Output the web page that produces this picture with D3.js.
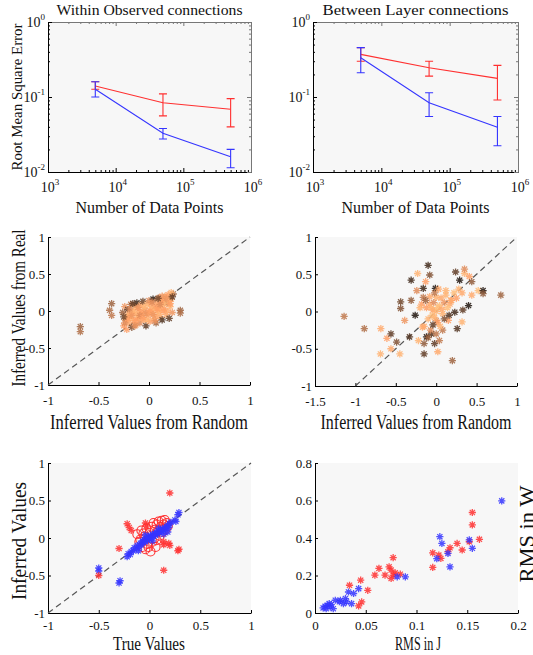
<!DOCTYPE html>
<html>
<head>
<meta charset="utf-8">
<script src="https://cdn.jsdelivr.net/npm/d3@7"></script>
<style>
  body { margin: 0; background: #fff; }
  svg text { font-family: "Liberation Serif", "DejaVu Serif", serif; fill: #111; }
</style>
</head>
<body>
<svg id="fig" width="533" height="655"></svg>
<script>
// ---- data ----
const sampleSizes = [5000, 50000, 500000];
// each entry: [mean, lower, upper]
const withinRed  = [[0.140, 0.127, 0.160], [0.084, 0.056, 0.110], [0.0686, 0.040, 0.095]];
const withinBlue = [[0.127, 0.100, 0.160], [0.0328, 0.0275, 0.038], [0.016, 0.0114, 0.020]];
const betweenRed  = [[0.37, 0.30, 0.455], [0.246, 0.19, 0.30], [0.177, 0.091, 0.264]];
const betweenBlue = [[0.334, 0.211, 0.455], [0.084, 0.055, 0.114], [0.0394, 0.0224, 0.055]];

// [random, real, copper shade]
const withinScatter = [
  [-0.68,-0.21,0.5],[-0.68,-0.28,0.55],[-0.37,0.10,0.5],[-0.39,0.01,0.55],[-0.37,-0.06,0.6],[0.31,0.01,0.5],[0.31,-0.03,0.55],
  [-0.26,-0.02,0.5],[-0.25,-0.20,0.8],[-0.24,0.06,0.75],[-0.23,-0.12,0.85],[-0.22,-0.25,0.8],[-0.21,0.02,0.3],[-0.20,-0.16,0.85],
  [-0.19,-0.06,0.9],[-0.18,0.09,0.6],[-0.17,-0.22,0.4],[-0.16,-0.02,0.85],[-0.15,-0.13,0.8],[-0.14,0.06,0.9],[-0.13,-0.19,0.85],
  [-0.12,0.11,0.2],[-0.11,-0.08,0.9],[-0.10,0.02,0.8],[-0.09,-0.16,0.7],[-0.08,0.08,0.85],[-0.07,-0.04,0.9],[-0.06,0.13,0.35],
  [-0.05,-0.12,0.85],[-0.04,0.01,0.75],[-0.03,-0.20,0.3],[-0.02,0.09,0.9],[-0.01,-0.06,0.85],[0.00,0.14,0.7],[0.01,-0.14,0.8],
  [0.02,0.04,0.9],[0.03,-0.02,0.85],[0.04,0.16,0.15],[0.05,-0.10,0.9],[0.06,0.07,0.8],[0.07,-0.16,0.5],[0.08,0.12,0.85],
  [0.09,0.01,0.9],[0.10,0.18,0.75],[0.11,-0.08,0.85],[0.12,0.08,0.9],[0.13,-0.12,0.25],[0.14,0.15,0.85],[0.15,0.03,0.8],
  [0.16,0.20,0.9],[0.17,-0.05,0.85],[0.18,0.11,0.6],[0.19,0.22,0.8],[0.20,-0.10,0.3],[0.21,0.06,0.9],[0.22,0.16,0.85],
  [0.23,-0.02,0.75],[0.24,0.23,0.5],[0.22,0.25,0.9],[-0.20,-0.04,0.85],[-0.15,0.00,0.9],[-0.10,-0.10,0.85],[-0.05,0.05,0.9],
  [0.00,-0.02,0.85],[0.05,0.02,0.9],[0.10,0.05,0.85],[0.15,0.10,0.9],[0.18,0.00,0.85],[-0.18,-0.10,0.9],[-0.08,-0.02,0.8],
  [0.02,0.10,0.85],[0.12,0.14,0.8],[-0.12,-0.04,0.9],[0.07,-0.06,0.85],[-0.22,-0.08,0.9],[0.20,0.14,0.9],[-0.02,-0.12,0.9],
  [0.10,-0.02,0.9],[-0.24,-0.16,0.7],[-0.21,-0.10,0.8],[-0.17,-0.06,0.75],[-0.13,-0.13,0.8],[-0.09,-0.06,0.7],[-0.06,-0.09,0.8],
  [-0.03,-0.04,0.75],[0.01,0.00,0.8],[0.04,-0.05,0.75],[0.08,0.03,0.8],[0.11,0.09,0.7],[0.14,0.00,0.8],[0.17,0.17,0.75],
  [0.21,0.10,0.8],[-0.19,0.03,0.7],[-0.11,0.05,0.75],[0.03,0.12,0.7],[0.13,0.20,0.75],[-0.14,-0.20,0.7],[0.06,-0.13,0.75],
  [-0.25,-0.08,0.35],[0.23,0.19,0.3],[-0.16,0.10,0.3],[0.09,0.17,0.35]
];

const betweenScatter = [
  [-1.14,-0.065,0.6],[-0.89,-0.23,0.55],[-0.685,-0.23,0.85],[-0.61,-0.36,0.8],[-0.69,-0.57,0.9],[-0.56,-0.50,0.85],
  [-0.56,-0.30,0.3],[-0.49,-0.41,0.4],[-0.45,-0.57,0.9],[-0.44,0.13,0.35],[-0.44,0.04,0.4],[-0.39,-0.12,0.75],
  [-0.31,0.42,0.2],[-0.31,0.15,0.45],[-0.33,-0.34,0.25],[-0.26,-0.05,0.1],[-0.23,0.51,0.9],[-0.24,0.28,0.7],
  [-0.18,0.10,0.8],[-0.17,-0.21,0.85],[-0.22,-0.39,0.9],[-0.15,-0.43,0.45],[-0.15,-0.57,0.3],[-0.10,0.62,0.2],
  [-0.08,0.49,0.4],[-0.13,0.40,0.8],[-0.16,0.31,0.2],[-0.16,0.19,0.6],[-0.08,0.10,0.85],[-0.01,0.31,0.1],
  [0.00,0.19,0.9],[-0.04,0.02,0.8],[0.00,-0.12,0.7],[-0.06,-0.30,0.25],[-0.12,-0.34,0.1],[-0.02,-0.43,0.3],
  [0.02,-0.54,0.85],[0.04,-0.39,0.6],[0.12,0.28,0.9],[0.17,0.10,0.85],[0.23,-0.01,0.2],[0.24,0.53,0.3],
  [0.20,-0.66,0.5],[0.29,0.42,0.1],[0.35,0.51,0.9],[0.35,0.57,0.7],[0.41,0.47,0.8],[0.44,0.40,0.45],
  [0.44,0.22,0.85],[0.40,0.08,0.1],[0.33,0.02,0.3],[0.32,-0.14,0.9],[0.26,-0.23,0.25],[0.52,0.28,0.95],
  [0.58,0.28,0.1],[0.58,0.24,0.45],[0.80,0.22,0.5],[0.19,0.15,0.85],[0.15,-0.12,0.8],[0.08,-0.25,0.6],
  [-0.12,0.05,0.8],[-0.10,-0.10,0.9],[-0.08,0.20,0.85],[-0.05,-0.05,0.95],[-0.03,0.12,0.7],[0.00,0.00,0.9],
  [0.02,-0.15,0.8],[0.04,0.08,0.95],[0.06,0.18,0.85],[0.08,-0.03,0.9],[0.10,0.12,0.75],[0.12,0.22,0.9],
  [0.14,0.05,0.95],[-0.15,-0.20,0.85],[-0.07,-0.25,0.7],[0.00,-0.30,0.6],[0.05,-0.20,0.9],[-0.20,0.05,0.9],
  [0.18,0.15,0.85],[0.22,0.25,0.95],[0.25,0.18,0.8],[-0.02,0.25,0.6],[-0.13,0.15,0.5],[0.03,0.30,0.85],
  [-0.10,-0.35,0.5],[0.10,-0.10,0.4],[0.16,-0.05,0.25],[-0.04,-0.18,0.3],[0.28,0.30,0.9],[0.32,0.25,0.85],
  [-0.06,0.05,0.9],[0.02,0.05,0.95],[0.07,0.03,0.85],[-0.02,-0.08,0.9]
];

// true vs inferred
const trueRedCircles = [
  [-0.12,0.05],[-0.10,-0.05],[-0.08,0.10],[-0.07,-0.12],[-0.05,0.02],[-0.04,-0.15],[-0.03,0.13],[-0.02,-0.08],
  [0.00,0.07],[0.01,-0.18],[0.02,0.15],[0.03,-0.05],[0.04,0.20],[0.05,0.00],[0.06,-0.12],[0.07,0.18],
  [0.08,0.09],[0.09,0.22],[0.10,0.03],[0.11,0.15],[0.12,0.23],[0.13,0.08],[0.14,0.18],[0.15,0.24],
  [0.16,0.12],[0.17,0.20],[0.18,0.16],[-0.09,-0.02],[-0.06,0.06],[0.05,0.11],[-0.01,-0.12],[0.07,-0.03]
];
const trueBlueStars = [
  [-0.50,-0.40],[-0.50,-0.44],[-0.29,-0.57],[-0.30,-0.60],[0.29,0.34],[0.28,0.31],[0.25,0.24],[0.26,0.22],
  [-0.22,-0.25],[-0.21,-0.21],[-0.19,-0.22],[-0.18,-0.18],[-0.16,-0.17],[-0.15,-0.13],[-0.13,-0.14],[-0.12,-0.10],
  [-0.10,-0.12],[-0.09,-0.07],[-0.08,-0.09],[-0.07,-0.04],[-0.06,-0.06],[-0.05,-0.02],[-0.04,-0.05],[-0.03,0.00],
  [-0.02,-0.03],[-0.01,0.02],[0.00,-0.01],[0.01,0.03],[0.02,0.00],[0.03,0.05],[0.04,0.02],[0.05,0.06],
  [0.06,0.04],[0.07,0.08],[0.08,0.05],[0.09,0.09],[0.10,0.07],[0.11,0.11],[0.12,0.09],[0.13,0.12],
  [0.14,0.10],[0.15,0.14],[0.16,0.12],[0.17,0.15],[0.18,0.17],[0.19,0.14],[0.20,0.19],[0.21,0.21],
  [0.14,0.05],[0.18,0.08],[-0.11,-0.17],[-0.04,0.04],[0.03,-0.04],[0.09,0.13]
];
const trueRedStars = [
  [0.20,0.60],[-0.22,0.19],[-0.20,0.14],[-0.18,0.10],[-0.04,0.20],[-0.03,0.16],[-0.30,-0.14],[-0.50,-0.50],
  [0.14,-0.43],[0.29,-0.15],[0.28,-0.17],[0.19,-0.07],[0.14,-0.05],[0.14,-0.09],[0.20,-0.10]
];

// RMS in J vs RMS in W
const rmsBlue = [
  [0.184,0.598],[0.155,0.345],[0.152,0.39],[0.133,0.246],[0.131,0.318],[0.123,0.407],[0.125,0.371],[0.12,0.29],
  [0.081,0.193],[0.089,0.193],[0.008,0.027],[0.010,0.036],[0.012,0.041],[0.014,0.05],[0.015,0.032],[0.018,0.023],
  [0.011,0.023],[0.025,0.068],[0.028,0.05],[0.030,0.077],[0.033,0.112],[0.036,0.05],[0.038,0.104],[0.043,0.13],
  [0.031,0.059],[0.020,0.068],[0.016,0.045],[0.024,0.06]
];
const rmsRed = [
  [0.155,0.536],[0.155,0.47],[0.162,0.393],[0.152,0.38],[0.145,0.336],[0.14,0.371],[0.133,0.348],[0.131,0.327],
  [0.116,0.321],[0.116,0.243],[0.122,0.309],[0.124,0.291],[0.077,0.295],[0.073,0.246],[0.075,0.229],[0.077,0.202],
  [0.075,0.184],[0.069,0.202],[0.063,0.238],[0.059,0.202],[0.079,0.214],[0.084,0.207],[0.052,0.121],[0.045,0.175],
  [0.046,0.059],[0.043,0.038],[0.034,0.148]
];

const logXTicks = [3, 4, 5, 6];
const logYTicks = [-2, -1, 0];
const unitTicks = [-1, -0.5, 0, 0.5, 1];
const wideTicks = [-1.5, -1, -0.5, 0, 0.5, 1];
const rmsJTicks = [0, 0.05, 0.1, 0.15, 0.2];
const rmsWTicks = [0, 0.2, 0.4, 0.6, 0.8];

// ---- drawing ----
const svg = d3.select("#fig");
const RED = "#ff3030", BLUE = "#3535ff";

function copper(c) {
  return d3.rgb(255 * Math.min(1, 1.25 * c), 255 * 0.7812 * c, 255 * 0.4975 * c).toString();
}

function starPath(r) {
  const a = r * 0.72;
  return `M${-r},0L${r},0M0,${-r}L0,${r}M${-a},${-a}L${a},${a}M${-a},${a}L${a},${-a}`;
}

function frame(box) {
  svg.append("rect")
    .attr("x", box.x0).attr("y", box.y0)
    .attr("width", box.x1 - box.x0).attr("height", box.y1 - box.y0)
    .attr("fill", "#f7f7f7");
}

function label(text, x, y, size, len, rotate) {
  const t = svg.append("text")
    .attr("font-size", size)
    .attr("text-anchor", "middle")
    .attr("textLength", len)
    .attr("lengthAdjust", "spacingAndGlyphs")
    .text(text);
  if (rotate) t.attr("transform", `translate(${x},${y}) rotate(${rotate})`);
  else t.attr("x", x).attr("y", y);
  return t;
}

function styleAxis(g, color) {
  g.select(".domain").attr("stroke", color);
  g.selectAll(".tick line").attr("stroke", color);
  g.selectAll(".tick text").attr("font-size", 13).attr("fill", "#111")
    .attr("font-family", "Liberation Serif, serif");
}

// log-log panel with error bars
function errorPanel(box, title, redData, blueData, withYLabel) {
  frame(box);
  const x = d3.scaleLog().domain([1e3, 1e6]).range([box.x0, box.x1]);
  const y = d3.scaleLog().domain([1e-2, 1]).range([box.y1, box.y0]);

  const minorX = [], minorY = [];
  for (let e = 3; e < 6; e++) for (let m = 2; m < 10; m++) minorX.push(m * 10 ** e);
  for (let e = -2; e < 0; e++) for (let m = 2; m < 10; m++) minorY.push(m * 10 ** e);
  const majX = logXTicks.map(d => 10 ** d), majY = logYTicks.map(d => 10 ** d);

  const axes = [
    [d3.axisBottom(x), `translate(0,${box.y1})`, "#000", majX, minorX],
    [d3.axisTop(x), `translate(0,${box.y0})`, "#777", majX, minorX],
    [d3.axisLeft(y), `translate(${box.x0},0)`, "#000", majY, minorY],
    [d3.axisRight(y), `translate(${box.x1},0)`, "#777", majY, minorY]
  ];
  axes.forEach(([ax, tr, col, maj, min]) => {
    svg.append("g").attr("transform", tr)
      .call(ax.tickValues(min).tickSizeInner(-2).tickSizeOuter(0).tickFormat(""))
      .call(g => styleAxis(g, col));
    svg.append("g").attr("transform", tr)
      .call(ax.tickValues(maj).tickSizeInner(-4).tickSizeOuter(0).tickFormat(""))
      .call(g => styleAxis(g, col));
  });

  // power-of-ten labels
  svg.append("g").selectAll("text").data(logXTicks).join("text")
    .attr("x", d => x(10 ** d) + 2).attr("y", box.y1 + 20)
    .attr("text-anchor", "middle").attr("font-size", 14)
    .call(t => {
      t.append("tspan").text("10");
      t.append("tspan").attr("dy", -7).attr("font-size", 9).text(d => d);
    });
  svg.append("g").selectAll("text").data(logYTicks).join("text")
    .attr("x", box.x0 - 3).attr("y", d => y(10 ** d) + 5)
    .attr("text-anchor", "end").attr("font-size", 14)
    .call(t => {
      t.append("tspan").text("10");
      t.append("tspan").attr("dy", -7).attr("font-size", 9).text(d => d);
    });

  const line = d3.line().x((d, i) => x(sampleSizes[i])).y(d => y(d[0]));
  [[redData, RED], [blueData, BLUE]].forEach(([data, col]) => {
    const g = svg.append("g").attr("stroke", col).attr("fill", "none").attr("stroke-width", 1.1);
    g.append("path").attr("d", line(data));
    data.forEach((d, i) => {
      const cx = x(sampleSizes[i]);
      g.append("path").attr("d",
        `M${cx},${y(d[1])}V${y(d[2])}M${cx - 4},${y(d[1])}H${cx + 4}M${cx - 4},${y(d[2])}H${cx + 4}`);
    });
  });

  label(title, (box.x0 + box.x1) / 2, 15, 15, 186);
  label("Number of Data Points", (box.x0 + box.x1) / 2, 213, 16, 148);
  if (withYLabel) label("Root Mean Square Error", 22, (box.y0 + box.y1) / 2, 14, 147, -90);
}

// linear scatter panel
function scatterPanel(box, xDomain, yDomain, xTicks, yTicks, diagonal, pad) {
  frame(box);
  const x = d3.scaleLinear().domain(xDomain).range([box.x0, box.x1]);
  const y = d3.scaleLinear().domain(yDomain).range([box.y1, box.y0]);
  svg.append("g").attr("transform", `translate(0,${box.y1})`)
    .call(d3.axisBottom(x).tickValues(xTicks).tickSizeInner(-3).tickSizeOuter(0)
      .tickPadding(pad).tickFormat(d => String(d)))
    .call(g => styleAxis(g, "#000"));
  svg.append("g").attr("transform", `translate(${box.x0},0)`)
    .call(d3.axisLeft(y).tickValues(yTicks).tickSizeInner(-3).tickSizeOuter(0)
      .tickPadding(3).tickFormat(d => String(d)))
    .call(g => styleAxis(g, "#000"));
  if (diagonal) {
    svg.append("line")
      .attr("x1", x(-1)).attr("y1", y(-1)).attr("x2", x(1)).attr("y2", y(1))
      .attr("stroke", "#555").attr("stroke-width", 1.2).attr("stroke-dasharray", "6,4");
  }
  return {x, y};
}

function drawStars(sc, data, colorFn, r) {
  svg.append("g").selectAll("path").data(data).join("path")
    .attr("d", starPath(r))
    .attr("transform", d => `translate(${sc.x(d[0])},${sc.y(d[1])})`)
    .attr("fill", "none")
    .attr("stroke", colorFn)
    .attr("stroke-width", 1.3)
    .attr("stroke-opacity", 0.85);
}

// row 1
errorPanel({x0: 48, x1: 251, y0: 22, y1: 172}, "Within Observed connections", withinRed, withinBlue, true);
errorPanel({x0: 313, x1: 518, y0: 22, y1: 172}, "Between Layer connections", betweenRed, betweenBlue, false);

// row 2
const s3 = scatterPanel({x0: 48, x1: 250, y0: 237, y1: 385}, [-1, 1], [-1, 1], unitTicks, unitTicks, true, 11);
drawStars(s3, withinScatter, d => copper(d[2]), 3.6);
label("Inferred Values from Random", 149, 429, 20, 198);
label("Inferred Values from Real", 25, 308, 19, 157, -90);

const s4 = scatterPanel({x0: 315, x1: 517, y0: 237, y1: 386}, [-1.5, 1], [-1, 1], wideTicks, unitTicks, true, 11);
drawStars(s4, betweenScatter, d => copper(d[2]), 3.6);
label("Inferred Values from Random", 416, 429, 20, 191);

// row 3
const s5 = scatterPanel({x0: 48, x1: 251, y0: 463, y1: 613}, [-1, 1], [-1, 1], unitTicks, unitTicks, true, 8);
svg.append("g").selectAll("circle").data(trueRedCircles).join("circle")
  .attr("cx", d => s5.x(d[0])).attr("cy", d => s5.y(d[1])).attr("r", 4.5)
  .attr("fill", "none").attr("stroke", RED).attr("stroke-width", 1.1);
drawStars(s5, trueBlueStars, BLUE, 3.6);
drawStars(s5, trueRedStars, RED, 3.6);
label("True Values", 149, 650, 18, 72);
label("Inferred Values", 26, 541, 21, 118, -90);

const s6 = scatterPanel({x0: 315, x1: 518, y0: 463, y1: 613}, [0, 0.2], [0, 0.8], rmsJTicks, rmsWTicks, false, 8);
drawStars(s6, rmsRed, RED, 3.6);
drawStars(s6, rmsBlue, BLUE, 3.6);
label("RMS in J", 418, 650, 18, 46);
label("RMS in W", 534, 534, 21, 97, -90);
</script>
</body>
</html>
